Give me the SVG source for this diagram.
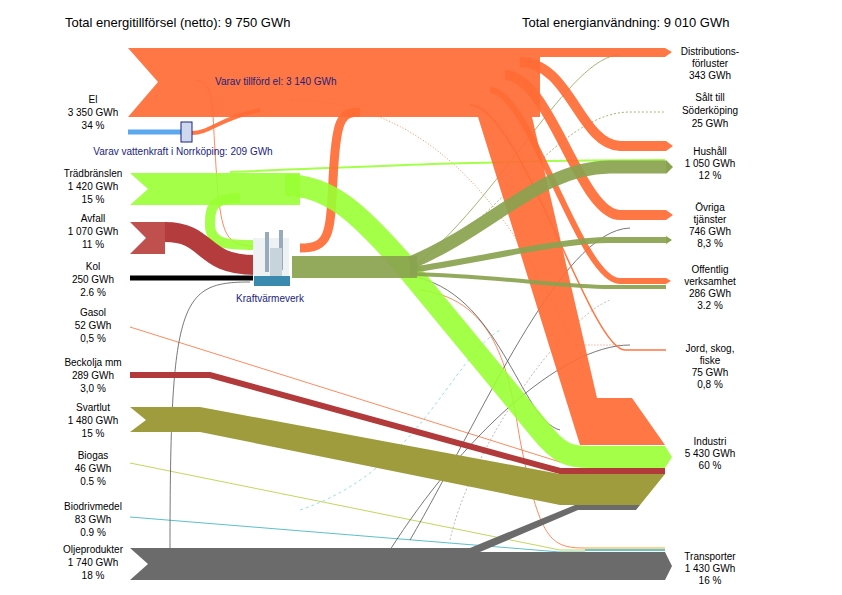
<svg xmlns="http://www.w3.org/2000/svg" width="842" height="595" viewBox="0 0 842 595">
<style>
text{font-family:"Liberation Sans",Arial,sans-serif;font-size:10px;fill:#000;text-anchor:middle}
.t{font-size:13px;text-anchor:start}
.o{fill:#ff6b35;opacity:.92}
.os{stroke:#ff6b35;fill:none;opacity:.92}
.g{fill:#99ff33;opacity:.9}
.gs{stroke:#99ff33;fill:none;opacity:.9}
.cs{stroke:#8aa34f;fill:none;opacity:.92}
.c{fill:#8aa34f}
.r{fill:#c0504d}
.rs{stroke:#b43c3c;fill:none}
.v{fill:#9e9c3c}
.k{fill:#6b6b6b}
.thin{fill:none;stroke-width:0.8}
</style>
<rect width="842" height="595" fill="#fff"/>
<text class="t" x="65" y="27">Total energitillförsel (netto): 9 750 GWh</text>
<text class="t" x="522" y="27">Total energianvändning: 9 010 GWh</text>
<g id="connectors">
<path class="thin" stroke="#ff6b35" d="M195 80 C215 80 212 110 215 150 C220 240 225 245 255 246"/>
<path class="thin" stroke="#ff6b35" d="M130 327 L560 462"/>
<path class="thin" stroke="#b5cc33" d="M130 463 L560 550 L585 550"/>
<path class="thin" stroke="#30b0c0" stroke-width="1.5" d="M130 517 L560 552 L585 552"/>
<path class="thin" stroke="#ff6b35" d="M420 290 C500 300 510 380 520 440 C540 540 550 548 585 548"/>
<path class="thin" stroke="#ff6b35" stroke-dasharray="1,2" d="M290 100 C500 100 560 350 580 345 L620 345"/>
<path class="thin" stroke="#8aa34f" d="M410 270 C500 200 570 55 620 55"/>
<path class="thin" stroke="#8aa34f" stroke-dasharray="2,2" d="M410 272 C500 220 560 112 630 112 L665 112"/>
<path class="thin" stroke="#555" d="M410 276 C500 290 520 420 560 430"/>
<path class="thin" stroke="#555" d="M410 540 C480 420 560 230 630 228"/>
<path class="thin" stroke="#555" d="M390 550 C460 440 560 345 630 345"/>
<path class="thin" stroke="#555" d="M170 550 C170 300 180 282 250 282"/>
<path class="thin" stroke="#aaa" stroke-dasharray="2,2" d="M450 540 C470 450 560 320 610 300"/>
<path class="thin" stroke="#7fd8d8" stroke-dasharray="3,3" d="M300 510 C420 470 450 360 500 330"/>
<path class="gs" stroke-width="2" d="M230 172 C400 165 520 160 665 160"/>
<path stroke="#5aa8ee" stroke-width="5" d="M128 132 L183 132"/>
<path class="os" stroke-width="4" d="M192 133 C210 133 220 118 260 110"/>
<polygon class="o" points="128,48 540,48 540,117 128,117 158,82"/>
<polygon class="o" points="540,48 665,48 672,52 665,57 540,57"/>
<path class="os" stroke-width="10" d="M520 62 C570 62 580 145 620 146 L666 146"/>
<polygon class="o" points="666,141 673,146 666,151"/>
<path class="os" stroke-width="10" d="M505 75 C550 75 580 215 620 215 L666 215"/>
<polygon class="o" points="666,210 673,215 666,220"/>
<path class="os" stroke-width="6" d="M490 90 C530 90 580 281 620 281 L666 281"/>
<polygon class="o" points="666,278 671,281 666,284"/>
<path class="os" stroke-width="1.5" d="M470 105 C520 105 590 350 625 350 L666 350"/>
<polygon class="o" points="478,117 532,117 597,398 632,398 665,445 580,445 C565 445 560 430 555 395 Z"/>
<path class="os" stroke-width="9" d="M300 248 C330 248 330 235 333 180 C336 120 340 112 360 112"/>
<polygon class="g" points="130,173 300,173 300,205 130,205 148,189"/>
<path class="gs" stroke-width="10" d="M240 198 C210 198 210 210 210 225 C210 245 230 245 255 245"/>
<path class="gs" stroke-width="22" d="M285 185 C330 185 360 215 400 260 L540 430 C560 455 570 457 590 457 L665 457"/>
<polygon class="g" points="665,446 672,457 665,468"/>
<polygon class="r" points="130,222 165,222 165,254 130,254 146,238"/>
<path class="rs" stroke="#c0504d" stroke-width="20" d="M165 232 C210 232 200 265 255 265"/>
<path stroke="#000" stroke-width="5" d="M130 278 L255 278"/>
<rect class="c" x="292" y="256" width="125" height="22" opacity=".92"/>
<path class="cs" stroke-width="13" d="M410 263 C490 230 540 167 610 167 L666 167"/>
<polygon class="c" points="666,160 673,167 666,174"/>
<path class="cs" stroke-width="6" d="M410 270 C480 260 560 240 610 240 L666 240"/>
<polygon class="c" points="666,236 672,240 666,244"/>
<path class="cs" stroke-width="4" d="M410 274 C500 276 560 287 610 287 L666 287"/>
<path fill="none" stroke="#b23a3a" stroke-width="6" d="M130 375 L210 375 L560 471 L665 471"/>
<polygon points="130,407 200,407 560,474 665,474 640,505 560,505 200,432 130,432 146,420" fill="#9e9c3c"/>
<polygon class="k" points="130,548 470,548 575,505 640,505 636,510 578,510 480,552 665,552 672,566 665,580 130,580 148,564"/>
<path d="M585 548 L665 548" stroke="#f5a623" stroke-width="1"/>
<path d="M585 550 L665 550" stroke="#30b0c0" stroke-width="1.5"/>
</g>
<g id="vattenkraft">
<rect x="181" y="122" width="11" height="20" fill="#d0d8f0" stroke="#1a237e"/>
<text x="183" y="155" style="fill:#1a237e">Varav vattenkraft i Norrköping: 209 GWh</text>
<text x="215" y="85" style="fill:#1a237e;text-anchor:start">Varav tillförd el: 3 140 GWh</text>
</g>
<g id="kraftvarmeverk">
<rect x="253" y="238" width="36" height="46" fill="#eef2f5"/>
<rect x="265" y="232" width="4" height="40" fill="#9ab"/>
<rect x="279" y="230" width="4" height="40" fill="#9ab"/>
<rect x="270" y="248" width="12" height="30" fill="#c8d4dc"/>
<rect x="254" y="276" width="36" height="10" fill="#3a8ab0"/>
<text x="270" y="302" style="fill:#1a237e">Kraftvärmeverk</text>
</g>
<g id="left-labels">
<text x="93" y="103">El</text><text x="93" y="116">3 350 GWh</text><text x="93" y="129">34 %</text>
<text x="93" y="177">Trädbränslen</text><text x="93" y="190">1 420 GWh</text><text x="93" y="203">15 %</text>
<text x="93" y="222">Avfall</text><text x="93" y="235">1 070 GWh</text><text x="93" y="248">11 %</text>
<text x="93" y="270">Kol</text><text x="93" y="283">250 GWh</text><text x="93" y="296">2.6 %</text>
<text x="93" y="316">Gasol</text><text x="93" y="329">52 GWh</text><text x="93" y="342">0,5 %</text>
<text x="93" y="366">Beckolja mm</text><text x="93" y="379">289 GWh</text><text x="93" y="392">3,0 %</text>
<text x="93" y="411">Svartlut</text><text x="93" y="424">1 480 GWh</text><text x="93" y="437">15 %</text>
<text x="93" y="459">Biogas</text><text x="93" y="472">46 GWh</text><text x="93" y="485">0.5 %</text>
<text x="93" y="510">Biodrivmedel</text><text x="93" y="523">83 GWh</text><text x="93" y="536">0.9 %</text>
<text x="93" y="553">Oljeprodukter</text><text x="93" y="566">1 740 GWh</text><text x="93" y="579">18 %</text>
</g>
<g id="right-labels">
<text x="710" y="55">Distributions-</text><text x="710" y="67">förluster</text><text x="710" y="79">343 GWh</text>
<text x="710" y="101">Sålt till</text><text x="710" y="114">Söderköping</text><text x="710" y="127">25 GWh</text>
<text x="710" y="155">Hushåll</text><text x="710" y="167">1 050 GWh</text><text x="710" y="179">12 %</text>
<text x="710" y="211">Övriga</text><text x="710" y="223">tjänster</text><text x="710" y="235">746 GWh</text><text x="710" y="247">8,3 %</text>
<text x="710" y="273">Offentlig</text><text x="710" y="285">verksamhet</text><text x="710" y="297">286 GWh</text><text x="710" y="309">3.2 %</text>
<text x="710" y="352">Jord, skog,</text><text x="710" y="364">fiske</text><text x="710" y="376">75 GWh</text><text x="710" y="388">0,8 %</text>
<text x="710" y="445">Industri</text><text x="710" y="457">5 430 GWh</text><text x="710" y="469">60 %</text>
<text x="710" y="560">Transporter</text><text x="710" y="572">1 430 GWh</text><text x="710" y="584">16 %</text>
</g>
</svg>
